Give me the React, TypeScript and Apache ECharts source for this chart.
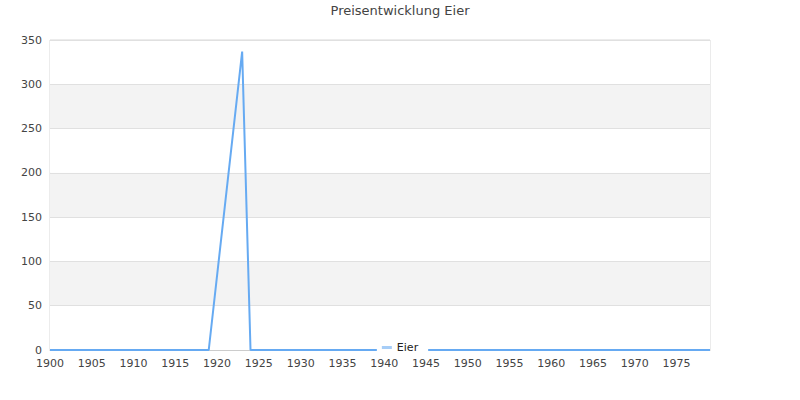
import React, { useEffect, useRef } from "react";
import * as echarts from "echarts";

const titleText = "Preisentwicklung Eier";
const seriesName = "Eier";
const years = [1900, 1919, 1923, 1924, 1979];
const prices = [0, 0, 337, 0, 0];

export default function App() {
  const ref = useRef<HTMLDivElement>(null);
  useEffect(() => {
    const chart = echarts.init(ref.current!, null, { renderer: "svg" });
    const font = "DejaVu Sans";
    chart.setOption({
      animation: false,
      textStyle: { fontFamily: font },
      title: {
        text: titleText,
        left: "center",
        top: 4,
        padding: [0, 5, 5, 5],
        textStyle: { fontFamily: font, fontSize: 13, fontWeight: "normal", color: "#444" },
      },
      grid: { left: 50, right: 90, top: 40, bottom: 50, show: true, borderColor: "#d8d8d8", backgroundColor: "transparent" },
      legend: {
        data: [seriesName],
        left: "center",
        top: 342,
        icon: "rect",
        itemWidth: 10,
        itemHeight: 3,
        itemGap: 10,
        padding: [0, 10, 0, 5],
        backgroundColor: "#fff",
        textStyle: { fontFamily: font, fontSize: 11, color: "#222" },
      },
      xAxis: {
        type: "value",
        min: 1900,
        max: 1979,
        interval: 5,
        axisLine: { show: true, lineStyle: { color: "#ccc" } },
        axisTick: { show: false },
        splitLine: { show: false },
        axisLabel: { color: "#444", fontSize: 11, fontFamily: font, showMaxLabel: false, formatter: (v: number) => String(v) },
      },
      yAxis: {
        type: "value",
        min: 0,
        max: 350,
        interval: 50,
        axisLine: { show: false },
        axisTick: { show: false },
        splitLine: { show: true, lineStyle: { color: "#e0e0e0" } },
        splitArea: { show: true, areaStyle: { color: ["#fff", "#f3f3f3"] } },
        axisLabel: { color: "#444", fontSize: 11, fontFamily: font },
      },
      series: [
        {
          name: seriesName,
          type: "line",
          data: years.map((y, i) => [y, prices[i]]),
          showSymbol: false,
          symbol: "none",
          lineStyle: { color: "#66aaf2", width: 2 },
          itemStyle: { color: "#a6cdf7" },
        },
      ],
    });
    return () => chart.dispose();
  }, []);
  return <div ref={ref} style={{ width: 800, height: 400, position: "absolute", left: 0, top: 0 }} />;
}
